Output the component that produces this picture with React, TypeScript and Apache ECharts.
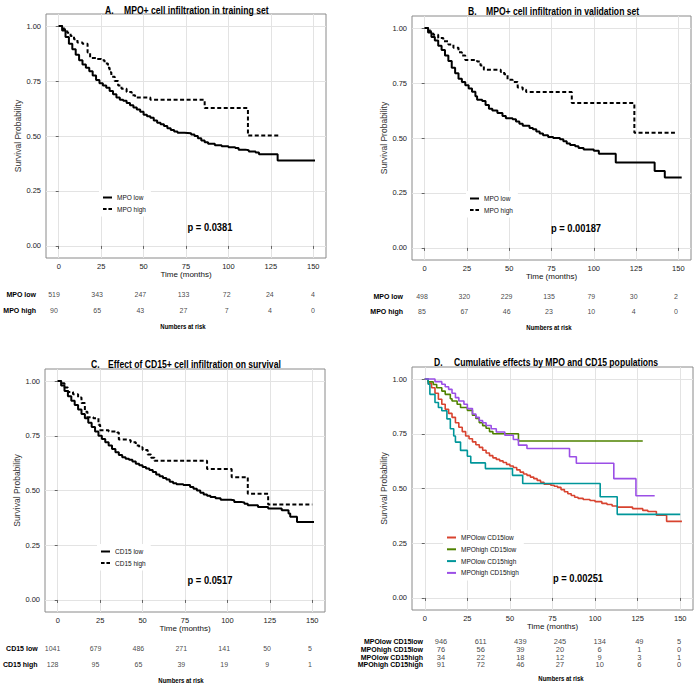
import React, { useEffect, useRef } from "react";
import * as echarts from "echarts";

// ---------- data ----------
const riskTimes = [0, 25, 50, 75, 100, 125, 150];
const xTicks = [0, 25, 50, 75, 100, 125, 150];
const yTicks = [0, 0.25, 0.5, 0.75, 1];

// Panel A
const aLow: number[][] = [[0,1],[2,0.98],[4,0.95],[6,0.92],[8,0.895],[10,0.87],[12,0.845],[14,0.825],[16,0.81],[18,0.795],[20,0.775],[22,0.755],[24,0.74],[26,0.73],[28,0.72],[30,0.705],[32,0.69],[34,0.675],[36,0.665],[38,0.66],[40,0.65],[42,0.64],[44,0.63],[46,0.62],[48,0.61],[50,0.597],[52,0.59],[54,0.583],[56,0.57],[58,0.56],[60,0.553],[62,0.545],[64,0.535],[66,0.527],[68,0.52],[70,0.515],[74,0.512],[78,0.507],[80,0.5],[82,0.49],[84,0.48],[86,0.472],[88,0.465],[92,0.458],[96,0.453],[100,0.449],[104,0.445],[106,0.438],[110,0.435],[112,0.43],[116,0.425],[118,0.417],[129,0.388],[151,0.388]];
const aHigh: number[][] = [[0,1],[3,0.985],[5,0.97],[7,0.955],[9,0.94],[11,0.925],[14,0.92],[17,0.88],[18.5,0.855],[22,0.85],[25,0.845],[27,0.83],[29,0.81],[30,0.79],[31,0.77],[33,0.75],[35,0.73],[37,0.715],[40,0.7],[43,0.685],[45,0.675],[54,0.665],[86,0.627],[111.5,0.502],[130,0.502]];
const aRiskLow = [519, 343, 247, 133, 72, 24, 4];
const aRiskHigh = [90, 65, 43, 27, 7, 4, 0];

// Panel B
const bLow: number[][] = [[0,1],[2,0.98],[4,0.96],[6,0.944],[8,0.92],[10,0.9],[12,0.875],[14,0.85],[16,0.82],[18,0.795],[20,0.77],[22,0.755],[24,0.74],[26,0.725],[28,0.71],[30,0.69],[31,0.674],[34,0.668],[36,0.65],[38,0.633],[40,0.625],[43,0.614],[46,0.6],[48,0.59],[52,0.585],[54,0.575],[56,0.565],[58,0.556],[62,0.545],[64,0.54],[66,0.53],[68,0.52],[70,0.513],[73,0.505],[76,0.5],[80,0.494],[82,0.485],[84,0.475],[86,0.468],[89,0.462],[91,0.455],[94,0.448],[100,0.442],[103,0.428],[113,0.388],[136,0.35],[142,0.32],[152,0.32]];
const bHigh: number[][] = [[0,1],[3,0.985],[5,0.97],[8,0.955],[11,0.94],[14,0.925],[17,0.91],[20,0.89],[22,0.875],[24,0.855],[31,0.848],[33,0.83],[35,0.81],[45,0.8],[47,0.79],[49,0.765],[52,0.755],[55,0.73],[58,0.72],[60,0.709],[87,0.659],[124,0.524],[148,0.524]];
const bRiskLow = [498, 320, 229, 135, 79, 30, 2];
const bRiskHigh = [85, 67, 46, 23, 10, 4, 0];

// Panel C
const cLow: number[][] = [[0,1],[2,0.98],[4,0.955],[6,0.93],[8,0.91],[10,0.89],[12,0.87],[14,0.85],[16,0.83],[18,0.81],[20,0.79],[22,0.77],[24,0.75],[26,0.735],[28,0.72],[30,0.705],[32,0.69],[34,0.675],[36,0.662],[38,0.652],[40,0.645],[42,0.64],[44,0.632],[46,0.622],[48,0.615],[50,0.607],[52,0.6],[54,0.594],[56,0.585],[58,0.573],[60,0.565],[62,0.557],[64,0.55],[66,0.54],[68,0.533],[70,0.529],[74,0.525],[78,0.516],[80,0.508],[82,0.5],[84,0.49],[86,0.482],[88,0.476],[90,0.47],[93,0.465],[96,0.458],[102,0.455],[104,0.448],[108,0.445],[110,0.44],[112,0.433],[118,0.425],[124,0.418],[132,0.41],[136,0.395],[137,0.38],[141,0.356],[151,0.356]];
const cHigh: number[][] = [[0,1],[2,0.99],[4,0.97],[6,0.95],[9,0.94],[12,0.925],[14,0.9],[16,0.86],[17.5,0.835],[21,0.83],[24,0.8],[25,0.775],[30,0.77],[35,0.765],[36,0.733],[41,0.73],[43,0.72],[46,0.705],[48,0.697],[50,0.685],[53,0.665],[55,0.65],[57,0.636],[88,0.598],[102.5,0.561],[112,0.485],[124,0.436],[150,0.436]];
const cRiskLow = [1041, 679, 486, 271, 141, 50, 5];
const cRiskHigh = [128, 95, 65, 39, 19, 9, 1];

// Panel D
const dLowLow: number[][] = [[0,1],[2,0.98],[4,0.96],[6,0.935],[8,0.908],[10,0.885],[12,0.862],[14,0.843],[16,0.825],[18,0.8],[20,0.78],[22,0.76],[24,0.74],[26,0.727],[28,0.713],[30,0.7],[32,0.688],[34,0.675],[36,0.662],[38,0.65],[40,0.64],[42,0.633],[44,0.626],[46,0.619],[48,0.61],[50,0.603],[52,0.596],[54,0.585],[56,0.575],[58,0.566],[60,0.56],[62,0.552],[64,0.545],[66,0.537],[68,0.528],[70,0.52],[74,0.515],[76,0.51],[78,0.505],[80,0.495],[82,0.485],[84,0.476],[86,0.468],[88,0.46],[90,0.455],[93,0.45],[97,0.445],[100,0.44],[104,0.432],[107,0.427],[110,0.42],[113,0.415],[122,0.408],[128,0.4],[131,0.395],[136,0.378],[142,0.35],[151,0.35]];
const dHighLow: number[][] = [[0,1],[2,0.987],[5,0.975],[7,0.96],[10,0.945],[12,0.93],[15,0.91],[16,0.9],[19,0.885],[21,0.87],[25,0.857],[28,0.835],[30,0.82],[32,0.8],[34,0.787],[36,0.775],[38,0.76],[40,0.75],[55,0.717],[128,0.717]];
const dLowHigh: number[][] = [[0,1],[2,0.976],[3,0.93],[6,0.893],[8,0.87],[10,0.855],[13,0.818],[15,0.773],[17,0.74],[18,0.712],[21,0.674],[25,0.647],[27,0.617],[35.6,0.591],[51.5,0.56],[57.5,0.523],[103,0.462],[113,0.382],[150,0.382]];
const dHighHigh: number[][] = [[0,1],[6,0.988],[10,0.976],[12,0.965],[14,0.953],[16,0.935],[18,0.915],[20,0.9],[23,0.885],[25,0.865],[28,0.84],[30,0.825],[32,0.81],[34,0.8],[36,0.788],[39,0.773],[42,0.758],[47,0.743],[52,0.724],[55,0.698],[60,0.683],[85,0.645],[89,0.615],[111,0.545],[124,0.467],[135,0.467]];
const dRisk1 = [946, 611, 439, 245, 134, 49, 5];
const dRisk2 = [76, 56, 39, 20, 6, 1, 0];
const dRisk3 = [34, 22, 18, 12, 9, 3, 1];
const dRisk4 = [91, 72, 46, 27, 10, 6, 0];

const namesAB = ["MPO low", "MPO high"];
const namesC = ["CD15 low", "CD15 high"];
const namesD = ["MPOlow CD15low", "MPOhigh CD15low", "MPOlow CD15high", "MPOhigh CD15high"];
const colorsD = ["#D8432F", "#4F8200", "#00969A", "#9B4FE6"];

// ---------- layout ----------
const FONT = "'Liberation Sans', Arial, sans-serif";
const SOLID_ICON = "rect";
const DASH_ICON = "path://M0,0h4v2h-4z M6,0h4v2h-4z";

const plotGrids = [
  { left: 46, top: 14, width: 280, height: 244 },
  { left: 412, top: 16, width: 279, height: 244 },
  { left: 45, top: 369, width: 280, height: 243 },
  { left: 412, top: 367, width: 281, height: 243 },
];
const riskGrids = [
  { left: 54, top: 286, width: 259, height: 32, margin: 18 },
  { left: 422, top: 288.5, width: 254, height: 30, margin: 19 },
  { left: 48, top: 640, width: 262, height: 32, margin: 15 },
  { left: 441, top: 638, width: 238, height: 30.7, margin: 18 },
];

function buildOption() {
  const grid: any[] = [];
  const xAxis: any[] = [];
  const yAxis: any[] = [];
  const series: any[] = [];

  plotGrids.forEach((g, i) => {
    grid.push({ ...g, show: true, backgroundColor: "#fff", borderColor: "#8a8a8a", borderWidth: 1 });
    xAxis.push({
      type: "value", gridIndex: i, min: -7.5, max: 157.5,
      name: "Time (months)", nameLocation: "middle", nameGap: 12,
      nameTextStyle: { fontFamily: FONT, fontSize: 8, color: "#111" },
      axisLine: { show: false },
      axisTick: { show: true, length: 3, lineStyle: { color: "#666" }, customValues: xTicks },
      axisLabel: { customValues: xTicks, fontFamily: FONT, fontSize: 7.5, color: "#222", margin: 4 },
      splitLine: { show: true, lineStyle: { color: "#e3e3e3", width: 1 } },
    });
    yAxis.push({
      type: "value", gridIndex: i, min: -0.055, max: 1.055,
      name: "Survival Probability", nameLocation: "middle", nameGap: 19,
      nameTextStyle: { fontFamily: FONT, fontSize: 8.5, color: "#333" },
      axisLine: { show: false },
      axisTick: { show: true, length: 3, lineStyle: { color: "#666" }, customValues: yTicks },
      axisLabel: { customValues: yTicks, fontFamily: FONT, fontSize: 7.5, color: "#222", margin: 5,
        formatter: (v: number) => v.toFixed(2) },
      splitLine: { show: true, lineStyle: { color: "#e3e3e3", width: 1 } },
    });
  });

  const rowSets = [namesAB, namesAB, namesC, namesD];
  riskGrids.forEach((g, j) => {
    const i = j + 4;
    grid.push({ left: g.left, top: g.top, width: g.width, height: g.height, show: false });
    xAxis.push({ type: "value", gridIndex: i, min: 0, max: 150, show: false });
    yAxis.push({
      type: "category", gridIndex: i, data: rowSets[j], inverse: true,
      axisLine: { show: false }, axisTick: { show: false }, splitLine: { show: false },
      axisLabel: { interval: 0, fontFamily: FONT, fontSize: 7, fontWeight: "bold", color: "#000", margin: g.margin },
    });
  });

  const km = (name: string, data: number[][], gi: number, color: string, dashed: boolean, width: number) => ({
    type: "line", name, xAxisIndex: gi, yAxisIndex: gi, data, step: "end", symbol: "none", silent: true,
    lineStyle: { color, width, type: dashed ? [4, 2.5] : "solid", cap: "butt" },
    itemStyle: { color },
  });
  series.push(km("MPO low", aLow, 0, "#000", false, 2));
  series.push(km("MPO high", aHigh, 0, "#000", true, 2));
  series.push(km("MPO low", bLow, 1, "#000", false, 2));
  series.push(km("MPO high", bHigh, 1, "#000", true, 2));
  series.push(km("CD15 low", cLow, 2, "#000", false, 2));
  series.push(km("CD15 high", cHigh, 2, "#000", true, 2));
  [dLowLow, dHighLow, dLowHigh, dHighHigh].forEach((d, k) =>
    series.push(km(namesD[k], d, 3, colorsD[k], false, 1.6))
  );

  const risk = (rows: number[][], gi: number, fs: number) => {
    const data: any[] = [];
    rows.forEach((r, ri) => r.forEach((n, ti) => data.push([riskTimes[ti], ri, n])));
    return {
      type: "scatter", xAxisIndex: gi, yAxisIndex: gi, data, symbolSize: 1, silent: true,
      itemStyle: { color: "rgba(0,0,0,0)" },
      label: { show: true, position: "inside", formatter: (p: any) => String(p.value[2]),
        fontFamily: FONT, fontSize: fs, color: "#111" },
    };
  };
  series.push(risk([aRiskLow, aRiskHigh], 4, 7));
  series.push(risk([bRiskLow, bRiskHigh], 5, 7));
  series.push(risk([cRiskLow, cRiskHigh], 6, 7));
  series.push(risk([dRisk1, dRisk2, dRisk3, dRisk4], 7, 7.5));

  const legendBase = {
    orient: "vertical", itemWidth: 9, itemHeight: 2, itemGap: 4.5, padding: [4, 5, 4, 4],
    backgroundColor: "#fff", selectedMode: false,
    textStyle: { fontFamily: FONT, fontSize: 6.5, color: "#111" },
  };
  const twoItems = (names: string[]) => [
    { name: names[0], icon: SOLID_ICON },
    { name: names[1], icon: DASH_ICON },
  ];
  const legend = [
    { ...legendBase, left: 99, top: 190, data: twoItems(namesAB) },
    { ...legendBase, left: 466, top: 191, data: twoItems(namesAB) },
    { ...legendBase, left: 97, top: 544, data: twoItems(namesC) },
    { ...legendBase, left: 443, top: 530, itemGap: 4.8, data: namesD.map((n) => ({ name: n, icon: SOLID_ICON })) },
  ];

  const t = (text: string, x: number, y: number, fontSize: number, bold: boolean, align = "center", sx = 0.82) => ({
    type: "text", x, y, z: 100, scaleX: sx, silent: true,
    style: { text, fontFamily: FONT, fontSize, fontWeight: bold ? "bold" : "normal", fill: "#000",
      align, verticalAlign: "middle" },
  });
  const graphic = [
    t("A.", 105, 10, 10.5, true, "left"), t("MPO+ cell infiltration in training set", 124, 10, 10.5, true, "left"),
    t("B.", 468, 11, 10.5, true, "left"), t("MPO+ cell infiltration in validation set", 486, 11, 10.5, true, "left"),
    t("C.", 91, 364, 10.5, true, "left"), t("Effect of CD15+ cell infiltration on survival", 108, 364, 10.5, true, "left"),
    t("D.", 434, 362, 10.5, true, "left"), t("Cumulative effects by MPO and CD15 populations", 454, 362, 10.5, true, "left"),
    t("p = 0.0381", 210, 227, 11, true, "center", 0.85), t("p = 0.00187", 576, 228, 11, true, "center", 0.85),
    t("p = 0.0517", 210, 580, 11, true, "center", 0.85), t("p = 0.00251", 578, 578, 11, true, "center", 0.85),
    t("Numbers at risk", 183, 326, 7.5, true, "center", 0.8), t("Numbers at risk", 549, 327, 7.5, true, "center", 0.8),
    t("Numbers at risk", 181, 680, 7.5, true, "center", 0.8), t("Numbers at risk", 561, 678, 7.5, true, "center", 0.8),
  ];

  return { animation: false, backgroundColor: "#fff", grid, xAxis, yAxis, series, legend, graphic };
}

export default function App() {
  const ref = useRef<HTMLDivElement>(null);
  useEffect(() => {
    document.body.style.margin = "0";
    const chart = echarts.init(ref.current!, undefined, { renderer: "svg" });
    chart.setOption(buildOption() as any);
    return () => chart.dispose();
  }, []);
  return <div ref={ref} style={{ width: 697, height: 688 }} />;
}
